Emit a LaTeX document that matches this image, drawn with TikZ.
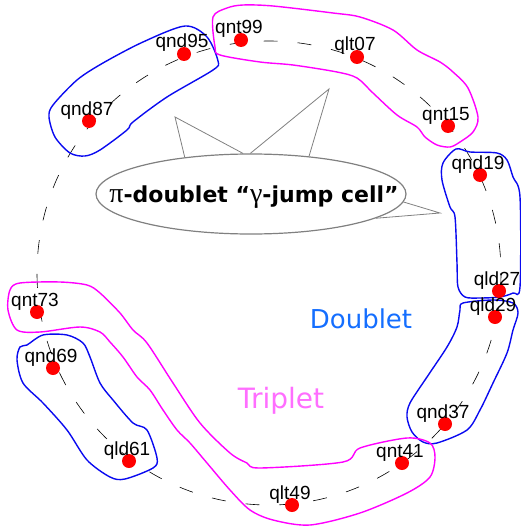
\documentclass[tikz,border=0pt]{standalone}
\usepackage{fontspec}
\setmainfont{Liberation Sans}
\newfontfamily\cellfont{DejaVu Sans}
\newfontfamily\greekfont{Liberation Serif}
\usetikzlibrary{shapes.geometric}

\definecolor{loopblue}{RGB}{10,10,240}
\definecolor{loopmag}{RGB}{255,0,255}
\definecolor{dbltext}{RGB}{20,110,255}
\definecolor{trptext}{RGB}{255,110,255}

\tikzset{
  quark/.style={circle, fill=red, inner sep=0pt, minimum size=14pt},
  qlabel/.style={font=\fontsize{19}{19}\selectfont, inner sep=0pt, anchor=base},
  dloop/.style={loopblue, line width=1.4pt},
  tloop/.style={loopmag, line width=1.4pt},
  pointer/.style={gray, line width=0.8pt},
  ring/.style={black, line width=0.6pt, dash pattern=on 14pt off 20pt},
}

\begin{document}
\begin{tikzpicture}[x=1pt, y=-1pt]
            \useasboundingbox (0,0) rectangle (520,527);

            % Dashed ring through the quarks
            \draw[ring] (269,273) circle (232);

            % Doublet loops
            \draw[dloop] plot[smooth cycle, tension=0.5] coordinates {
              (185,26) (207,37) (218,61) (213,70) (167,97) (133,122) (127,130) (100,150)
              (85,156) (70,153) (55,137) (49,117) (53,105) (77,80) (103,63) (143,42)};
            \draw[dloop] plot[smooth cycle, tension=0.5] coordinates {
              (456,149) (443,163) (442,180) (450,207) (455,217) (457,263) (458,287) (465,297)
              (480,298) (500,297) (513,293) (520,287) (520,197) (513,177) (507,160) (497,153)
              (470,152)};
            \draw[dloop] plot[smooth cycle, tension=0.5] coordinates {
              (463,303) (493,300) (513,303) (518,313) (513,330) (507,353) (493,383) (480,410)
              (467,430) (437,443) (423,442) (412,432) (407,417) (410,403) (427,377) (447,347)
              (457,327) (460,310)};
            \draw[dloop] plot[smooth cycle, tension=0.5] coordinates {
              (20,347) (17,360) (23,383) (43,403) (67,430) (87,460) (110,477) (125,479)
              (153,468) (157,458) (147,430) (133,423) (113,400) (100,383) (90,357) (83,343)
              (67,335) (43,335) (27,345)};

            % Triplet loops
            \draw[tloop] plot[smooth cycle, tension=0.5] coordinates {
              (243,5) (273,6) (333,13) (360,17) (393,30) (417,50) (440,62) (453,72) (468,88)
              (478,117) (473,132) (460,142) (450,147) (437,145) (425,137) (417,127) (397,115)
              (373,93) (357,78) (337,72) (293,65) (260,62) (220,55) (215,47) (213,17) (227,8)};
            \draw[tloop] plot[smooth cycle, tension=0.5] coordinates {
              (10,290) (8,310) (17,330) (40,332) (80,327) (100,332) (110,342) (123,357)
              (137,377) (150,390) (163,410) (177,430) (190,443) (207,463) (230,490) (250,510)
              (273,520) (310,525) (360,513) (407,493) (430,477) (435,457) (430,443) (407,438)
              (360,448) (343,462) (260,468) (247,463) (230,453) (200,423) (173,383) (147,343)
              (133,330) (120,313) (100,293) (87,285) (60,282) (20,283)};

            % Quarks
            \foreach \q/\x/\y in {qnd95/184/54, qnt99/241/40, qlt07/357/57, qnt15/448/126,
                                  qnd19/480/175, qld27/499/291, qld29/495/317, qnd37/445/424,
                                  qnt41/402/463, qlt49/292/505, qld61/129/461, qnd69/53/368,
                                  qnt73/37/312, qnd87/89/121}{
              \node[quark] (\q) at (\x,\y) {};
              \node[qlabel] (\q-txt) at ([xshift=-2pt, yshift=6pt]\q.center) {\q};
            }

            % Group names
            \node[font=\cellfont\fontsize{26}{26}\selectfont, text=dbltext, anchor=base] (dbl) at (361,328) {Doublet};
            \node[font=\cellfont\fontsize{28}{28}\selectfont, text=trptext, anchor=base] (trp) at (281,408) {Triplet};

            % Callout
            \node[ellipse, draw=gray, line width=1.2pt, fill=white, minimum width=310pt,
                  minimum height=80pt, inner sep=0pt] (cell) at (251,194) {};
            \node[font=\cellfont\bfseries\fontsize{22}{22}\selectfont, anchor=base] (celltxt) at (254,202)
                  {{\greekfont\mdseries\fontsize{28}{28}\selectfont π}-doublet
                   “{\greekfont\mdseries\fontsize{28}{28}\selectfont γ}-jump cell”};
            \coordinate (tipL) at (175,117);
            \coordinate (tipM) at (329,89);
            \coordinate (tipR) at (440,213);
            \draw[pointer] (cell.151) -- (tipL) -- (cell.101);
            \draw[pointer] (cell.91) -- (tipM) -- (cell.33);
            \draw[pointer] (cell.-3) -- (tipR) -- (cell.-11);
        \end{tikzpicture}
\end{document}
